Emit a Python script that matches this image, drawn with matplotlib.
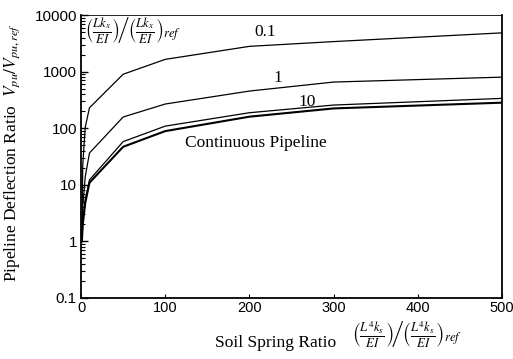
import numpy as np
import matplotlib
matplotlib.use("Agg")
import matplotlib.pyplot as plt
from matplotlib.ticker import FixedLocator, LogLocator, NullFormatter

plt.rcParams['mathtext.fontset'] = 'stix'

# Soil spring ratio (x) and deflection ratios
x = [1, 2, 5, 10, 50, 100, 200, 300, 500]
ratio_01 = [1.2, 22, 105, 230, 900, 1650, 2800, 3400, 4850]
ratio_1 = [1.1, 4, 14, 36.5, 158, 268, 454, 655, 800]
ratio_10 = [1.05, 2.2, 5.5, 12.2, 58, 109, 188, 257, 337]
continuous = [1.0, 2.0, 4.8, 10.9, 47, 89, 160, 224, 283]

ytick_vals = [0.1, 1, 10, 100, 1000, 10000]
ytick_labels = ["0.1", "1", "10", "100", "1000", "10000"]
xtick_vals = [0, 100, 200, 300, 400, 500]

fig = plt.figure(figsize=(5.13, 3.59), dpi=100)
ax = fig.add_axes([0.158, 0.170, 0.8206, 0.788])

ax.plot(x, ratio_01, color='black', lw=0.9)
ax.plot(x, ratio_1, color='black', lw=0.9)
ax.plot(x, ratio_10, color='black', lw=0.9)
ax.plot(x, continuous, color='black', lw=1.5)

ax.set_yscale('log')
ax.set_ylim(0.1, 10000)
ax.set_xlim(0, 500)
ax.yaxis.set_major_locator(FixedLocator(ytick_vals))
ax.set_yticklabels(ytick_labels, fontfamily='Liberation Sans', fontsize=11)
ax.yaxis.set_minor_locator(LogLocator(base=10, subs=np.arange(2, 10), numticks=20))
ax.yaxis.set_minor_formatter(NullFormatter())
ax.set_xticks(xtick_vals)
ax.set_xticklabels([str(v) for v in xtick_vals], fontfamily='Liberation Sans', fontsize=10.5)

ax.tick_params(axis='y', which='major', direction='in', length=5, width=1, right=False, pad=3)
ax.tick_params(axis='y', which='minor', direction='in', length=3, width=0.8, right=False)
ax.tick_params(axis='x', which='major', direction='in', length=3, width=0.8, top=False, pad=2)
for side in ['left', 'bottom', 'right']:
    ax.spines[side].set_linewidth(1.3)
ax.spines['top'].set_linewidth(0.6)


def px(xp, yp):
    # pixel position (from top-left) -> figure fraction
    return xp / 513, 1 - yp / 359


serif = 'Liberation Serif'

# Curve labels
fig.text(*px(265, 32), "0.1", fontsize=12.5, family=serif, ha='center', va='center')
fig.text(*px(278, 78), "1", fontsize=12.5, family=serif, ha='center', va='center')
fig.text(*px(307, 102), "10", fontsize=12.5, family=serif, ha='center', va='center')
fig.text(*px(256, 143), "Continuous Pipeline", fontsize=12.5, family=serif, ha='center', va='center')

fig.text(*px(85, 31), r"$\left(\frac{Lk_x}{EI}\right)\!\left/\left(\frac{Lk_x}{EI}\right)_{ref}\right.$",
         fontsize=13, ha='left', va='center')

# Axis labels
fig.text(*px(215, 343), "Soil Spring Ratio", fontsize=12.5, family=serif, ha='left', va='center')
fig.text(*px(352, 335), r"$\left(\frac{L^4k_s}{EI}\right)\!\left/\left(\frac{L^4k_s}{EI}\right)_{ref}\right.$",
         fontsize=13, ha='left', va='center')
fig.text(*px(12, 153), r"Pipeline Deflection Ratio  $V_{pu}/V_{pu,ref}$", fontsize=12.5,
         family=serif, rotation=90, ha='center', va='center')

fig.savefig("out.png", dpi=100)
